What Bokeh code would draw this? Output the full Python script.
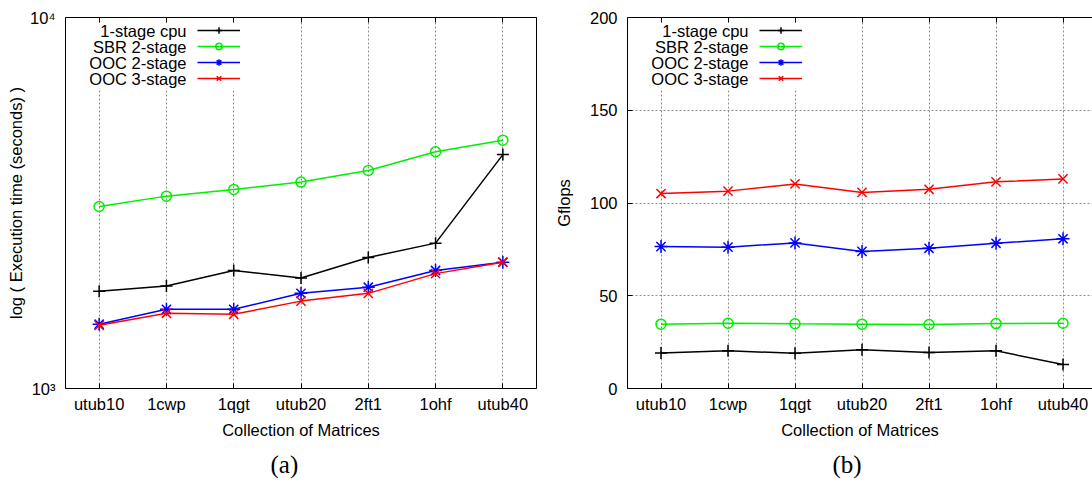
from bokeh.core.properties import value
from bokeh.embed import file_html
from bokeh.layouts import row
from bokeh.models import (BoxAnnotation, FixedTicker, Label, Legend, LegendItem,
                          LinearAxis, LogAxis, Range1d, Title)
from bokeh.plotting import figure
from bokeh.resources import INLINE

# ---- data -------------------------------------------------------------
matrices = ["utub10", "1cwp", "1qgt", "utub20", "2ft1", "1ohf", "utub40"]
series_names = ["1-stage cpu", "SBR 2-stage", "OOC 2-stage", "OOC 3-stage"]

# (a) execution time in seconds (log scale)
time_cpu_1stage = [1830, 1890, 2080, 1985, 2255, 2465, 4270]
time_sbr_2stage = [3095, 3300, 3440, 3600, 3870, 4345, 4670]
time_ooc_2stage = [1490, 1635, 1635, 1805, 1875, 2080, 2190]
time_ooc_3stage = [1480, 1595, 1585, 1720, 1805, 2040, 2190]

# (b) achieved Gflops
gflops_cpu_1stage = [19.2, 20.3, 19.0, 20.9, 19.4, 20.3, 12.9]
gflops_sbr_2stage = [34.7, 35.2, 34.9, 34.7, 34.5, 35.0, 35.2]
gflops_ooc_2stage = [76.5, 76.2, 78.5, 73.9, 75.6, 78.3, 80.7]
gflops_ooc_3stage = [105.1, 106.4, 110.3, 105.7, 107.4, 111.4, 113.0]

time_ticks = [1000, 10000]
time_tick_labels = ["10³", "10⁴"]
gflops_ticks = [0, 50, 100, 150, 200]
gflops_tick_labels = ["0", "50", "100", "150", "200"]

# ---- styling ----------------------------------------------------------
FONT = "Liberation Sans"
CAPTION_FONT = "Liberation Serif"
FS = "16.5px"
GRID_COLOR = "#8c8c8c"
# (colour, marker, marker size)
STYLES = [("#000000", "cross", 12), ("#00ee00", "circle", 10),
          ("#0000ff", "asterisk", 13), ("#ff0000", "x", 13)]
HEIGHT = 484


def style_axis(ax):
    ax.axis_line_color = "black"
    ax.axis_line_width = 1
    ax.major_tick_in = 5
    ax.major_tick_out = 0
    ax.minor_tick_in = 0
    ax.minor_tick_out = 0
    ax.major_tick_line_color = "black"
    ax.major_label_text_font = FONT
    ax.major_label_text_font_size = FS
    ax.major_label_text_color = "black"
    ax.axis_label_text_font = FONT
    ax.axis_label_text_font_size = FS
    ax.axis_label_text_font_style = "normal"
    ax.axis_label_text_color = "black"


def build_panel(series, y_range, y_type, y_ticks, y_tick_labels, y_label,
                caption, width, border_left, border_right, x_end,
                ylabel_standoff, horizontal_grid, mirror_right):
    xs = list(range(len(matrices)))
    p = figure(width=width, height=HEIGHT,
               x_range=Range1d(-0.5, x_end), y_range=y_range,
               y_axis_type=y_type, output_backend="svg",
               toolbar_location=None, title=None,
               min_border_left=border_left, min_border_right=border_right,
               min_border_top=17, min_border_bottom=96)
    p.outline_line_color = None
    p.background_fill_color = "white"
    p.border_fill_color = "white"

    # bottom axis: matrix names
    xaxis = p.xaxis[0]
    style_axis(xaxis)
    xaxis.ticker = FixedTicker(ticks=xs)
    xaxis.major_label_overrides = {i: m for i, m in enumerate(matrices)}
    xaxis.major_label_standoff = 6
    xaxis.axis_label = "Collection of Matrices"
    xaxis.axis_label_standoff = 5

    # left axis
    yaxis = p.yaxis[0]
    style_axis(yaxis)
    yaxis.ticker = FixedTicker(ticks=y_ticks)
    yaxis.major_label_overrides = dict(zip(y_ticks, y_tick_labels))
    yaxis.major_label_standoff = 10
    yaxis.axis_label = y_label
    yaxis.axis_label_standoff = ylabel_standoff

    # mirrored tick marks on the top border (and right border if it fits)
    top = LinearAxis(ticker=FixedTicker(ticks=xs),
                     major_label_overrides={i: "" for i in xs})
    style_axis(top)
    top.major_label_standoff = 0
    top.major_label_text_font_size = "0px"
    p.add_layout(top, "above")
    if mirror_right:
        axis_cls = LogAxis if y_type == "log" else LinearAxis
        right = axis_cls(ticker=FixedTicker(ticks=y_ticks),
                         major_label_overrides={t: "" for t in y_ticks})
        style_axis(right)
        right.major_label_standoff = 0
        right.major_label_text_font_size = "0px"
        p.add_layout(right, "right")

    # dotted grid
    p.xgrid.grid_line_color = GRID_COLOR
    p.xgrid.grid_line_dash = "2 2"
    p.xgrid.grid_line_width = 1
    if horizontal_grid:
        p.ygrid.grid_line_color = GRID_COLOR
        p.ygrid.grid_line_dash = "2 2"
        p.ygrid.grid_line_width = 1
    else:
        p.ygrid.visible = False

    # opaque key area
    p.add_layout(BoxAnnotation(left=19, right=181, top=366, bottom=300,
                               left_units="screen", right_units="screen",
                               top_units="screen", bottom_units="screen",
                               fill_color="white", fill_alpha=1.0,
                               line_color=None, level="underlay"))

    items = []
    for vals, (color, marker, size) in zip(series, STYLES):
        lr = p.line(xs, vals, line_color=color, line_width=1.5)
        sr = p.scatter(xs, vals, marker=marker, size=size, line_color=color,
                       fill_color=None, line_width=1.5)
        items.append(LegendItem(label=value(""), renderers=[lr, sr]))

    # key: samples on the right, names right-aligned to their left
    legend = Legend(items=items, location=(132, 302), orientation="vertical",
                    glyph_width=43, glyph_height=16, label_height=16,
                    label_width=0, label_standoff=0, padding=0, margin=0,
                    spacing=0, border_line_color=None,
                    background_fill_alpha=0, label_text_font_size="1px")
    p.add_layout(legend)
    for i, name in enumerate(series_names):
        p.add_layout(Label(x=121, y=358 - 16 * i, x_units="screen",
                           y_units="screen", text=name, text_align="right",
                           text_baseline="middle", text_font=FONT,
                           text_font_size=FS, text_color="black"))

    p.add_layout(Title(text=caption, align="left", offset=205,
                       text_font=CAPTION_FONT, text_font_size="25px",
                       text_font_style="normal", text_color="black",
                       standoff=14), "below")
    return p


p_time = build_panel(
    [time_cpu_1stage, time_sbr_2stage, time_ooc_2stage, time_ooc_3stage],
    Range1d(1000, 10000), "log", time_ticks, time_tick_labels,
    "log ( Execution time (seconds) )", "(a)",
    width=545, border_left=65, border_right=9, x_end=6.5,
    ylabel_standoff=2, horizontal_grid=False, mirror_right=True)

p_gflops = build_panel(
    [gflops_cpu_1stage, gflops_sbr_2stage, gflops_ooc_2stage, gflops_ooc_3stage],
    Range1d(0, 200), "linear", gflops_ticks, gflops_tick_labels,
    "Gflops", "(b)",
    width=547, border_left=82, border_right=0, x_end=6.44,
    ylabel_standoff=14, horizontal_grid=True, mirror_right=False)

layout = row(p_time, p_gflops)
open("out.html", "w").write(file_html(layout, INLINE))
